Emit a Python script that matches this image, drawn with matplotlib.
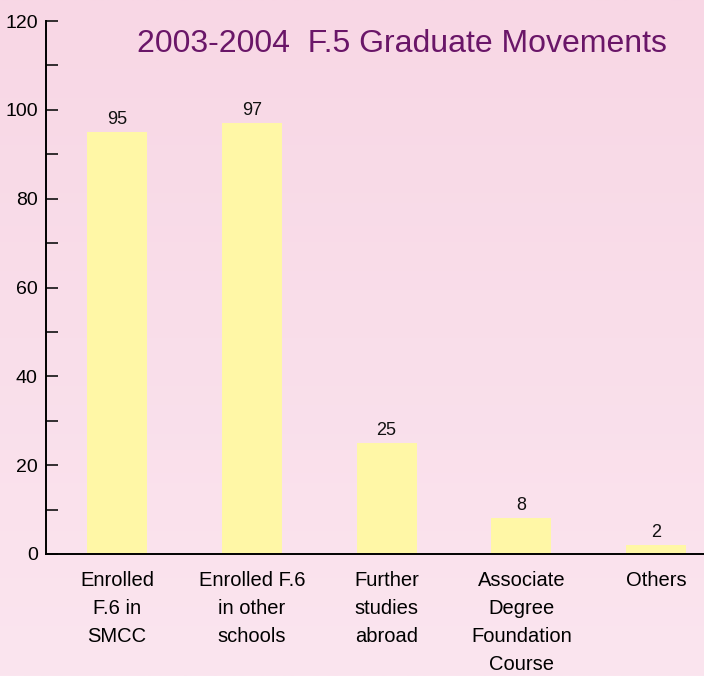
import numpy as np
import matplotlib
matplotlib.use("Agg")
import matplotlib.pyplot as plt
from matplotlib.colors import LinearSegmentedColormap

##### Data #####
categories = [
    "Enrolled\nF.6 in\nSMCC",
    "Enrolled F.6\nin other\nschools",
    "Further\nstudies\nabroad",
    "Associate\nDegree\nFoundation\nCourse",
    "Others",
]
counts = [95, 97, 25, 8, 2]
value_labels = ["95", "97", "25", "8", "2"]
title = "2003-2004  F.5 Graduate Movements"

font = ["Liberation Sans", "DejaVu Sans"]

##### Figure with pink gradient background #####
fig = plt.figure(figsize=(7.04, 6.76), dpi=100)
bg = fig.add_axes([0, 0, 1, 1], zorder=-1)
grad = np.linspace(0, 1, 256).reshape(-1, 1)
cmap = LinearSegmentedColormap.from_list("pinkbg", ["#f8d7e5", "#fbe5ef"])
bg.imshow(grad, aspect="auto", cmap=cmap, extent=[0, 1, 0, 1])
bg.axis("off")

ax = fig.add_axes([46 / 704, 122 / 676, 658 / 704, 533 / 676])
ax.patch.set_alpha(0)

x = np.arange(len(categories))
ax.bar(x, counts, width=0.445, color="#fff7a6", zorder=2)

# value labels over the bars
for xi, v, lab in zip(x, counts, value_labels):
    ax.text(xi, v + 0.9, lab, ha="center", va="bottom", fontsize=13,
            family=font, color="#111111")

ax.set_xlim(-0.527, 4.356)
ax.set_ylim(0, 120)
ax.set_yticks(np.arange(0, 121, 20))
ax.set_yticks(np.arange(10, 120, 20), minor=True)
ax.tick_params(axis="y", which="both", direction="in", length=8.5, width=1.2,
               labelsize=14, pad=6, color="#111111")
for t in ax.get_yticklabels():
    t.set_family(font)

ax.set_xticks(x)
ax.set_xticklabels(categories, fontsize=14.5, family=font, linespacing=1.6)
ax.tick_params(axis="x", length=0, pad=12)

for s in ["top", "right"]:
    ax.spines[s].set_visible(False)
ax.spines["left"].set_linewidth(1.4)
ax.spines["bottom"].set_linewidth(1.4)

fig.text(402 / 704, 1 - 44 / 676, title, ha="center", va="center",
         fontsize=23, family=font, color="#6a1668")

fig.savefig("out.png", dpi=100)
